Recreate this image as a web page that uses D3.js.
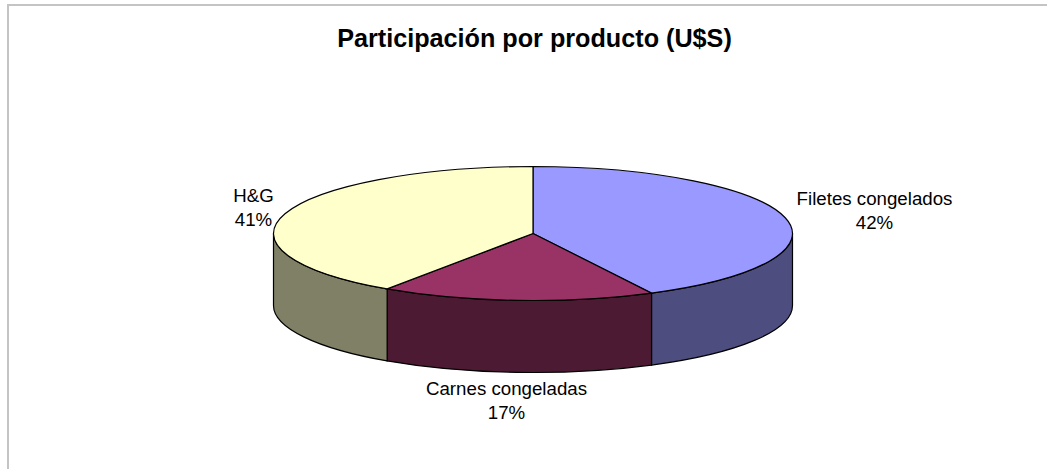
<!DOCTYPE html>
<html>
<head>
<meta charset="utf-8">
<script src="https://cdn.jsdelivr.net/npm/d3@7"></script>
<style>
html, body { margin: 0; padding: 0; background: #fff; overflow: hidden; }
text { font-family: "Liberation Sans", Arial, sans-serif; fill: #000; }
</style>
</head>
<body>
<div id="chart"></div>
<script>
const titleText = 'Participación por producto (U$S)';
const categories = ['Filetes congelados', 'Carnes congeladas', 'H&G'];
const shares = [42.45, 17.05, 40.5];
const topColors = ['#9999ff', '#993366', '#ffffcc'];
const sideColors = ['#4d4d80', '#4d1a33', '#808066'];

const svgWidth = 1047, svgHeight = 469;
const cx = 533, cy = 233.5, rx = 259.5, ry = 67, depth = 72;

let svg = d3.select('#chart').append('svg')
    .attr('width', svgWidth)
    .attr('height', svgHeight);

// grey frame, only top and left are visible in the crop
svg.append('path')
    .attr('d', 'M8,469V5H1047')
    .attr('fill', 'none')
    .attr('stroke', '#c4c4c4')
    .attr('stroke-width', 2);

svg.append('text')
    .attr('x', 534.5)
    .attr('y', 47)
    .attr('text-anchor', 'middle')
    .style('font-size', '25.2px')
    .style('font-weight', 'bold')
    .text(titleText);

let total = d3.sum(shares);
let slices = d3.pie().sort(null)(shares);

// angles go clockwise from 12 o'clock, squashed into an ellipse
function px(a) { return cx + rx * Math.sin(a); }
function py(a) { return cy - ry * Math.cos(a); }

function wallPath(a0, a1) {
    return 'M' + px(a0) + ',' + py(a0)
        + 'A' + rx + ',' + ry + ' 0 0 1 ' + px(a1) + ',' + py(a1)
        + 'V' + (py(a1) + depth)
        + 'A' + rx + ',' + ry + ' 0 0 0 ' + px(a0) + ',' + (py(a0) + depth)
        + 'Z';
}

function topPath(a0, a1) {
    let large = a1 - a0 > Math.PI ? 1 : 0;
    return 'M' + cx + ',' + cy
        + 'L' + px(a0) + ',' + py(a0)
        + 'A' + rx + ',' + ry + ' 0 ' + large + ' 1 ' + px(a1) + ',' + py(a1)
        + 'Z';
}

// only the front half of the rim shows a wall
let frontFrom = Math.PI / 2, frontTo = Math.PI * 3 / 2;

svg.selectAll('path.wall').data(slices)
    .enter()
    .append('path')
    .attr('class', 'wall')
    .attr('d', function (d) {
        return wallPath(Math.max(d.startAngle, frontFrom), Math.min(d.endAngle, frontTo));
    })
    .attr('fill', function (d, i) { return sideColors[i]; })
    .attr('stroke', '#000')
    .attr('stroke-width', 1.2);

svg.selectAll('path.top').data(slices)
    .enter()
    .append('path')
    .attr('class', 'top')
    .attr('d', function (d) { return topPath(d.startAngle, d.endAngle); })
    .attr('fill', function (d, i) { return topColors[i]; })
    .attr('stroke', '#000')
    .attr('stroke-width', 1.2);

// label centres and first baselines
const labelX = [874.5, 506.5, 253.5];
const labelY = [204.5, 395, 201.5];

let labels = svg.selectAll('text.label').data(slices)
    .enter()
    .append('text')
    .attr('class', 'label')
    .attr('text-anchor', 'middle')
    .style('font-size', '18.7px');

labels.append('tspan')
    .attr('x', function (d, i) { return labelX[i]; })
    .attr('y', function (d, i) { return labelY[i]; })
    .text(function (d, i) { return categories[i]; });

labels.append('tspan')
    .attr('x', function (d, i) { return labelX[i]; })
    .attr('y', function (d, i) { return labelY[i] + 24.3; })
    .text(function (d) { return Math.round(d.value / total * 100) + '%'; });
</script>
</body>
</html>
